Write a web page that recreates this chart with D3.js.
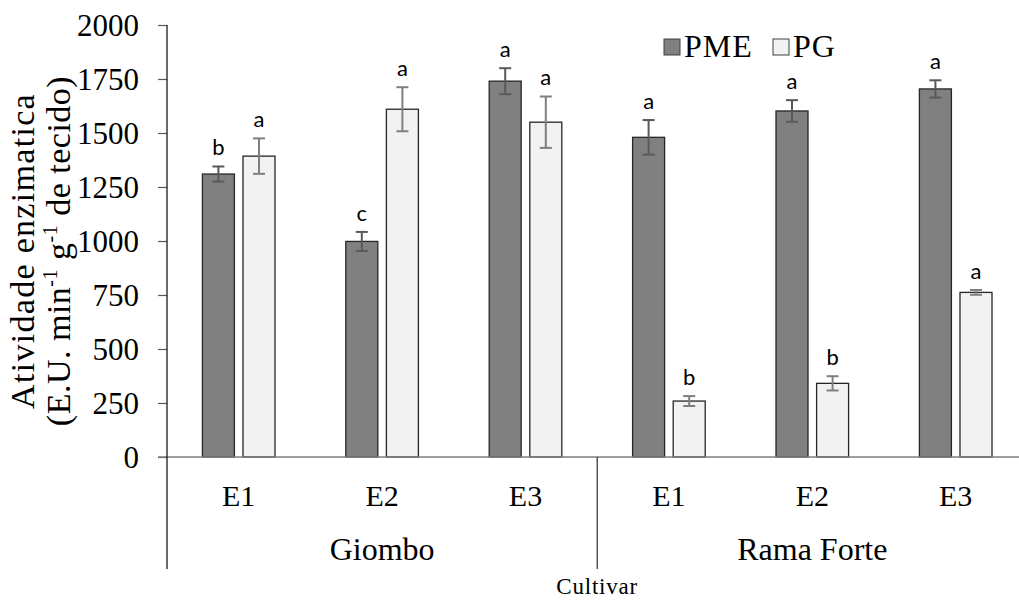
<!DOCTYPE html>
<html>
<head>
<meta charset="utf-8">
<script src="https://cdn.jsdelivr.net/npm/d3@7"></script>
<style>
  html, body { margin: 0; padding: 0; background: #fff; }
  svg { display: block; }
</style>
</head>
<body>
<svg id="chart" width="1019" height="600"></svg>
<script>
// ---- data ----
const cultivars = ["Giombo", "Rama Forte"];
const stages = ["E1", "E2", "E3"];
const categories = ["Giombo-E1", "Giombo-E2", "Giombo-E3", "Rama Forte-E1", "Rama Forte-E2", "Rama Forte-E3"];
const categoryStage = ["E1", "E2", "E3", "E1", "E2", "E3"];
const categoryCultivar = ["Giombo", "Giombo", "Giombo", "Rama Forte", "Rama Forte", "Rama Forte"];
const seriesNames = ["PME", "PG"];
const pmeValues = [1310, 998, 1740, 1480, 1602, 1704];
const pmeErrors = [35, 44, 60, 80, 50, 40];
const pgValues = [1393, 1610, 1550, 259, 341, 762];
const pgErrors = [82, 102, 119, 23, 33, 11];
const pmeLetters = ["b", "c", "a", "a", "a", "a"];
const pgLetters = ["a", "a", "a", "b", "b", "a"];
const yTicks = [0, 250, 500, 750, 1000, 1250, 1500, 1750, 2000];

const series = [
  { name: "PME", values: pmeValues, errors: pmeErrors, letters: pmeLetters, fill: "#808080", stroke: "#262626", err: "#595959" },
  { name: "PG", values: pgValues, errors: pgErrors, letters: pgLetters, fill: "#f2f2f2", stroke: "#262626", err: "#7f7f7f" }
];

const SERIF = '"Liberation Serif", "Times New Roman", serif';
const SANS = 'Lato, "Open Sans", sans-serif';

// ---- layout ----
const svg = d3.select("#chart");
const mLeft = 167, mTop = 25, mBottom = 457;
const step = 143.4;
const x = d3.scaleBand().domain(categories).range([mLeft, mLeft + step * categories.length]).padding(0);
const xs = d3.scaleBand().domain(seriesNames).range([35.4, 108]).paddingInner(0.2118).paddingOuter(0);
const y = d3.scaleLinear().domain([0, 2000]).range([mBottom, mTop]);

// y axis
const yAxis = d3.axisLeft(y).tickValues(yTicks).tickSize(9).tickPadding(19).tickFormat(d3.format("d"));
const gy = svg.append("g").attr("transform", `translate(${mLeft},0)`).call(yAxis);
gy.select(".domain").remove();
gy.selectAll(".tick line").attr("stroke", "#595959").attr("stroke-width", 1.2);
gy.selectAll(".tick text").attr("fill", "#000").style("font-size", "31px")
  .style("font-family", SERIF).attr("dy", "0.34em");

// bars
series.forEach(s => {
  const g = svg.append("g");
  g.selectAll("rect").data(categories).join("rect")
    .attr("x", (c) => x(c) + xs(s.name))
    .attr("y", (c, i) => y(s.values[i]))
    .attr("width", xs.bandwidth())
    .attr("height", (c, i) => y(0) - y(s.values[i]))
    .attr("fill", s.fill)
    .attr("stroke", s.stroke)
    .attr("stroke-width", 1.3);
});

// baseline (category axis)
svg.append("line").attr("x1", 158).attr("x2", 1019).attr("y1", y(0)).attr("y2", y(0))
  .attr("stroke", "#7f7f7f").attr("stroke-width", 1.3);
// vertical axis line
svg.append("line").attr("x1", mLeft).attr("x2", mLeft).attr("y1", mTop).attr("y2", 569)
  .attr("stroke", "#1a1a1a").attr("stroke-width", 1.3);
// group divider
svg.append("line").attr("x1", x("Rama Forte-E1")).attr("x2", x("Rama Forte-E1")).attr("y1", y(0)).attr("y2", 569)
  .attr("stroke", "#1a1a1a").attr("stroke-width", 1.1);

// error bars + letters
series.forEach(s => {
  const g = svg.append("g");
  categories.forEach((c, i) => {
    const cx = x(c) + xs(s.name) + xs.bandwidth() / 2;
    const hi = y(s.values[i] + s.errors[i]);
    const lo = y(s.values[i] - s.errors[i]);
    g.append("line").attr("x1", cx).attr("x2", cx).attr("y1", hi).attr("y2", lo).attr("stroke", s.err).attr("stroke-width", 2);
    g.append("line").attr("x1", cx - 6).attr("x2", cx + 6).attr("y1", hi).attr("y2", hi).attr("stroke", s.err).attr("stroke-width", 2);
    g.append("line").attr("x1", cx - 6).attr("x2", cx + 6).attr("y1", lo).attr("y2", lo).attr("stroke", s.err).attr("stroke-width", 2);
    g.append("text").attr("x", cx).attr("y", hi - 11)
      .attr("text-anchor", "middle").style("font-family", SANS).style("font-size", "22px").attr("fill", "#000")
      .text(s.letters[i]);
  });
});

// stage labels
svg.append("g").selectAll("text").data(categories).join("text")
  .attr("x", c => x(c) + step / 2).attr("y", 506)
  .attr("text-anchor", "middle").style("font-family", SERIF).style("font-size", "30px").attr("fill", "#000")
  .text((c, i) => categoryStage[i]);

// cultivar labels
cultivars.forEach(cv => {
  const idx = categoryCultivar.map((v, i) => v === cv ? i : -1).filter(i => i >= 0);
  const x0 = x(categories[idx[0]]);
  const x1 = x(categories[idx[idx.length - 1]]) + step;
  svg.append("text").attr("x", (x0 + x1) / 2).attr("y", 560)
    .attr("text-anchor", "middle").style("font-family", SERIF).style("font-size", "32px")
    .attr("fill", "#000").text(cv);
});

// x title
svg.append("text").attr("x", x("Rama Forte-E1")).attr("y", 594)
  .attr("text-anchor", "middle").style("font-family", SERIF).style("font-size", "23px")
  .style("letter-spacing", "0.8px").attr("fill", "#000").text("Cultivar");

// y title
const yt = svg.append("g").attr("transform", "translate(0,251) rotate(-90)");
yt.append("text").attr("x", 0).attr("y", 34)
  .attr("text-anchor", "middle").style("font-family", SERIF).style("font-size", "34px")
  .style("letter-spacing", "1.3px").attr("fill", "#000").text("Atividade enzimatica");
const t2 = yt.append("text").attr("x", 0).attr("y", 70)
  .attr("text-anchor", "middle").style("font-family", SERIF).style("font-size", "34px")
  .style("letter-spacing", "0.5px").attr("fill", "#000");
t2.append("tspan").text("(E.U. min");
t2.append("tspan").attr("dy", -13).style("font-size", "20px").text("-1");
t2.append("tspan").attr("dy", 13).text(" g");
t2.append("tspan").attr("dy", -13).style("font-size", "20px").text("-1");
t2.append("tspan").attr("dy", 13).text(" de tecido)");

// legend
const legend = svg.append("g");
const legX = [664, 773];
series.forEach((s, i) => {
  legend.append("rect").attr("x", legX[i]).attr("y", 39).attr("width", 16).attr("height", 16)
    .attr("fill", s.fill).attr("stroke", "#404040").attr("stroke-width", 1);
  legend.append("text").attr("x", legX[i] + 20).attr("y", 57)
    .style("font-family", SERIF).style("font-size", "32px").style("letter-spacing", "1px")
    .attr("fill", "#000").text(s.name);
});
</script>
</body>
</html>
